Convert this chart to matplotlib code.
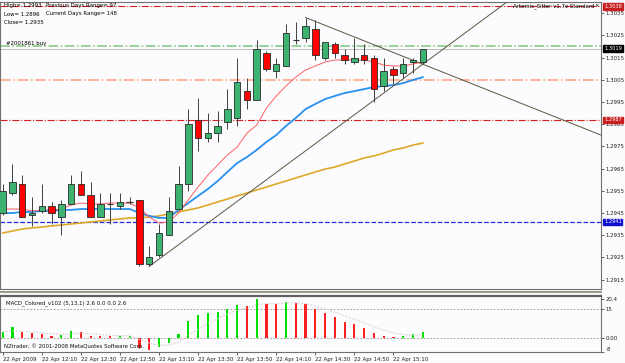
import matplotlib
matplotlib.use('Agg')
import matplotlib.pyplot as plt
import numpy as np
from matplotlib.lines import Line2D

# EURUSD M5 bars, 22 Apr 2009 11:50 .. 15:25
opens = [1.2945, 1.2954, 1.2958, 1.2944, 1.2946, 1.2948, 1.2943, 1.2949, 1.2958, 1.2953,
         1.2943, 1.2949, 1.2948, 1.2950, 1.2951, 1.2922, 1.2926, 1.2935, 1.2947, 1.2958,
         1.2987, 1.2979, 1.2981, 1.2986, 1.2988, 1.3000, 1.2996, 1.3017, 1.3009, 1.3011,
         1.3023, 1.3024, 1.3028, 1.3015, 1.3021, 1.3016, 1.3013, 1.3016, 1.3015, 1.3002,
         1.3010, 1.3008, 1.3013, 1.3013]
highs = [1.2958, 1.2967, 1.2962, 1.2952, 1.2958, 1.2950, 1.2951, 1.2962, 1.2964, 1.2959,
         1.2954, 1.2954, 1.2954, 1.2952, 1.2951, 1.2930, 1.2940, 1.2952, 1.2966, 1.2992,
         1.2997, 1.2990, 1.2991, 1.3001, 1.3015, 1.3006, 1.3023, 1.3018, 1.3015, 1.3030,
         1.3031, 1.3033, 1.3032, 1.3022, 1.3022, 1.3019, 1.3024, 1.3021, 1.3016, 1.3015,
         1.3011, 1.3015, 1.3015, 1.3019]
lows = [1.2944, 1.2953, 1.2943, 1.2939, 1.2945, 1.2940, 1.2935, 1.2949, 1.2953, 1.2943,
        1.2943, 1.2940, 1.2947, 1.2949, 1.2921, 1.2921, 1.2925, 1.2935, 1.2947, 1.2955,
        1.2973, 1.2977, 1.2977, 1.2983, 1.2984, 1.2992, 1.2996, 1.3009, 1.3006, 1.3011,
        1.3021, 1.3022, 1.3014, 1.3014, 1.3015, 1.3012, 1.3012, 1.3012, 1.2995, 1.3000,
        1.3003, 1.3006, 1.3008, 1.3012]
closes = [1.2955, 1.2959, 1.2943, 1.2945, 1.2948, 1.2945, 1.2949, 1.2958, 1.2953, 1.2943,
          1.2949, 1.2949, 1.2950, 1.2950, 1.2922, 1.2925, 1.2936, 1.2946, 1.2958, 1.2985,
          1.2979, 1.2981, 1.2984, 1.2992, 1.3004, 1.2996, 1.3019, 1.3010, 1.3012, 1.3026,
          1.3023, 1.3029, 1.3016, 1.3022, 1.3017, 1.3014, 1.3015, 1.3014, 1.3001, 1.3009,
          1.3007, 1.3012, 1.3014, 1.3019]

# moving averages
ma_fast = [1.29468, 1.29468, 1.29468, 1.29459, 1.29464, 1.29464, 1.29468, 1.29486, 1.29495, 1.29491,
           1.29491, 1.29495, 1.29495, 1.29495, 1.29473, 1.29432, 1.29405, 1.29410, 1.29450, 1.29509,
           1.29567, 1.29621, 1.29666, 1.29711, 1.29747, 1.29810, 1.29846, 1.29923, 1.29977, 1.30022,
           1.30062, 1.30094, 1.30112, 1.30130, 1.30139, 1.30139, 1.30139, 1.30139, 1.30130, 1.30116,
           1.30112, 1.30112, 1.30121, 1.30130]
ma_mid = [1.29450, 1.29450, 1.29455, 1.29455, 1.29459, 1.29459, 1.29464, 1.29464, 1.29468, 1.29468,
          1.29468, 1.29468, 1.29468, 1.29468, 1.29450, 1.29437, 1.29428, 1.29428, 1.29464, 1.29495,
          1.29527, 1.29558, 1.29594, 1.29635, 1.29675, 1.29702, 1.29734, 1.29770, 1.29801, 1.29842,
          1.29878, 1.29918, 1.29941, 1.29963, 1.29977, 1.29990, 1.29999, 1.30008, 1.30017, 1.30022,
          1.30026, 1.30035, 1.30049, 1.30062]
ma_slow = [1.29360, 1.29369, 1.29378, 1.29383, 1.29387, 1.29392, 1.29396, 1.29401, 1.29405, 1.29410,
           1.29414, 1.29419, 1.29423, 1.29428, 1.29428, 1.29432, 1.29437, 1.29446, 1.29455, 1.29464,
           1.29473, 1.29486, 1.29500, 1.29513, 1.29527, 1.29540, 1.29554, 1.29567, 1.29581, 1.29594,
           1.29608, 1.29621, 1.29635, 1.29648, 1.29657, 1.29671, 1.29684, 1.29698, 1.29707, 1.29720,
           1.29734, 1.29743, 1.29756, 1.29765]

# MACD_Colored histogram and signal
macd_hist = [3.1, 5.4, 2.8, 2.2, 1.9, 0.8, 1.3, 3.5, 3.1, 1.0,
             0.9, 0.8, 0.9, 0.9, -5.7, -6.6, -5.2, -2.8, 1.7, 8.9,
             12.0, 12.9, 13.7, 15.2, 17.3, 16.8, 20.4, 17.8, 17.7, 19.0,
             18.2, 17.8, 15.0, 13.2, 10.7, 8.4, 7.0, 5.2, 2.2, 1.0,
             0.4, 0.9, 1.7, 3.1]
macd_signal = [3.0, 3.5, 3.4, 3.0, 2.6, 2.0, 1.6, 2.0, 2.3, 2.0,
               1.6, 1.2, 1.0, 0.9, -1.0, -3.0, -4.2, -4.0, -2.5, 1.0,
               4.5, 7.5, 10.0, 12.5, 14.5, 15.8, 17.5, 18.0, 18.0, 18.5,
               18.5, 18.0, 16.8, 15.3, 13.5, 11.5, 9.7, 7.8, 5.8, 4.0,
               2.5, 1.5, 1.2, 1.6]

tick_bars = [0, 4, 8, 12, 16, 20, 24, 28, 32, 36, 40]
tick_labels = ['22 Apr 2009', '22 Apr 12:10', '22 Apr 12:30', '22 Apr 12:50', '22 Apr 13:10',
               '22 Apr 13:30', '22 Apr 13:50', '22 Apr 14:10', '22 Apr 14:30', '22 Apr 14:50',
               '22 Apr 15:10']
price_ticks = [1.2915, 1.2925, 1.2935, 1.2945, 1.2955, 1.2965, 1.2975, 1.2985, 1.2995,
               1.3005, 1.3015, 1.3025, 1.3035]

# horizontal objects: price, color, style, width, label box colour (None = no box)
levels = [(1.3038, '#d42020', '-.', 0.8, '#c82020'),
          (1.3020, '#80c880', '-.', 1.1, None),
          (1.3019, '#b4b4b4', '-', 0.6, '#000000'),
          (1.3005, '#ffa888', '-.', 1.2, None),
          (1.2987, '#d42020', '-.', 0.8, '#c82020'),
          (1.2941, '#2828e0', '--', 0.9, '#1010d0')]

# trendlines (bar, price) anchors, drawn as rays to the right
trend_down = ([31, 43], [1.3033, 1.3012])
trend_up = ([15, 43], [1.2921, 1.3012])

W, H = 625, 363
bg = '#fcfbfd'
plt.rcParams['font.family'] = ['DejaVu Sans']
plt.rcParams['font.stretch'] = 'condensed'
fs = 4.3

fig = plt.figure(figsize=(W / 100, H / 100), dpi=100, facecolor=bg)


def fx(x):
    return x / W


def fy(y):
    return 1 - y / H


ax = fig.add_axes([0, fy(289), fx(601), (289 - 2) / H], facecolor=bg)
ax2 = fig.add_axes([0, fy(352), fx(601), (352 - 296) / H], facecolor=bg)

n = len(opens)
idx = np.arange(n)
xmax = 61.24

# levels
for price, color, ls, lw, box in levels:
    ax.axhline(price, color=color, linestyle=ls, linewidth=lw, zorder=1)
    if box:
        ax.text(1.005, price, '%.4f' % price, transform=ax.get_yaxis_transform(),
                ha='left', va='center', fontsize=fs - 0.2, color='white', zorder=10, clip_on=False,
                bbox=dict(boxstyle='square,pad=0.12', facecolor=box, edgecolor=box))

# moving averages
ax.plot(idx, ma_slow, color='#dca828', linewidth=1.2, zorder=2)
ax.plot(idx, ma_mid, color='#2890f0', linewidth=1.3, zorder=2)
ax.plot(idx, ma_fast, color='#ff6060', linewidth=0.7, zorder=2)

# trendlines
for xs, ps in (trend_down, trend_up):
    slope = (ps[1] - ps[0]) / (xs[1] - xs[0])
    ax.plot([xs[0], xmax], [ps[0], ps[0] + slope * (xmax - xs[0])],
            color='#5a5840', linewidth=0.7, zorder=3)

# candles
o = np.array(opens)
c = np.array(closes)
up = c > o
dn = c < o
doji = c == o
ax.vlines(idx, lows, highs, color='#404040', linewidth=0.7, zorder=4)
ax.bar(idx[up], (c - o)[up], bottom=o[up], width=0.66, color='#3cb371',
       edgecolor='#2a2a2a', linewidth=0.6, zorder=5)
ax.bar(idx[dn], (o - c)[dn], bottom=c[dn], width=0.66, color='#ff0000',
       edgecolor='#2a2a2a', linewidth=0.6, zorder=5)
ax.hlines(c[doji], idx[doji] - 0.33, idx[doji] + 0.33, color='#303030', linewidth=0.8, zorder=5)

ax.set_xlim(-0.276, xmax)
ax.set_ylim(1.29108, 1.3040)
ax.set_xticks([])
ax.yaxis.tick_right()
ax.set_yticks(price_ticks)
ax.set_yticklabels(['%.4f' % p for p in price_ticks])
ax.tick_params(axis='y', labelsize=fs, length=2, width=0.5, pad=1.5, colors='#202020')
for s in ax.spines.values():
    s.set_color('#707070')
    s.set_linewidth(0.8)

# MACD panel
colors = []
prev = None
for v in macd_hist:
    colors.append('#00e000' if prev is None or v >= prev else '#ff2020')
    prev = v
ax2.bar(idx, macd_hist, width=0.22, color=colors, zorder=3)
ax2.plot(idx, macd_signal, color='#d8cccc', linewidth=0.8, linestyle=(0, (1.5, 1.5)), zorder=4)
ax2.axhline(15, color='#909090', linewidth=0.6, linestyle=(0, (2, 2)), zorder=1)
ax2.axhline(0, color='#909090', linewidth=0.6, linestyle=(0, (2, 2)), zorder=1)
ax2.set_xlim(-0.276, xmax)
ax2.set_ylim(-7.7, 22.1)
ax2.yaxis.tick_right()
ax2.set_yticks([20.4, 15, 0, -7.7])
ax2.set_yticklabels(['20.4', '15', '0.00', '-8'])
ax2.get_yticklabels()[-1].set_va('bottom')
ax2.tick_params(axis='y', labelsize=fs, length=2, width=0.5, pad=1.5, colors='#202020')
ax2.set_xticks(tick_bars)
ax2.set_xticklabels(tick_labels, ha='left')
ax2.tick_params(axis='x', labelsize=fs, length=2, width=0.5, pad=1.5, colors='#202020')
for s in ax2.spines.values():
    s.set_color('#707070')
    s.set_linewidth(0.8)
ax2.spines['top'].set_color('#606060')
ax2.spines['top'].set_linewidth(1.6)
fig.add_artist(Line2D([0, fx(601)], [fy(291.5), fy(291.5)], color='#9a9888', linewidth=1.4))

# texts
ax2.text(fx(6) / fx(601), 0.88, 'MACD_Colored_v102 (5,13,1) 2.6 0.0 0.0 2.6', transform=ax2.transAxes,
         fontsize=fs, va='center', ha='left', color='#101010')
ax2.text(fx(4) / fx(601), 0.1, 'N2trader, \u00a9 2001-2008 MetaQuotes Software Corp.',
         transform=ax2.transAxes, fontsize=fs, va='center', ha='left', color='#101010')
fig.text(fx(4), fy(5), 'High= 1.2993', fontsize=fs, va='center')
fig.text(fx(46), fy(5), 'Previous Days Range= 97', fontsize=fs, va='center')
fig.text(fx(4), fy(14), 'Low= 1.2896', fontsize=fs, va='center')
fig.text(fx(46), fy(14), 'Current Days Range= 148', fontsize=fs, va='center')
fig.text(fx(4), fy(23), 'Close= 1.2935', fontsize=fs, va='center')
fig.text(fx(6), fy(43), '#2001861 buy', fontsize=fs, va='center')
fig.text(fx(513), fy(6), 'Artemis_Sitter v1.7e Standard', fontsize=fs, va='center')
fig.text(fx(594), fy(6), '\u00d7', fontsize=fs, va='center')

fig.savefig('out.png', dpi=100, facecolor=bg)
